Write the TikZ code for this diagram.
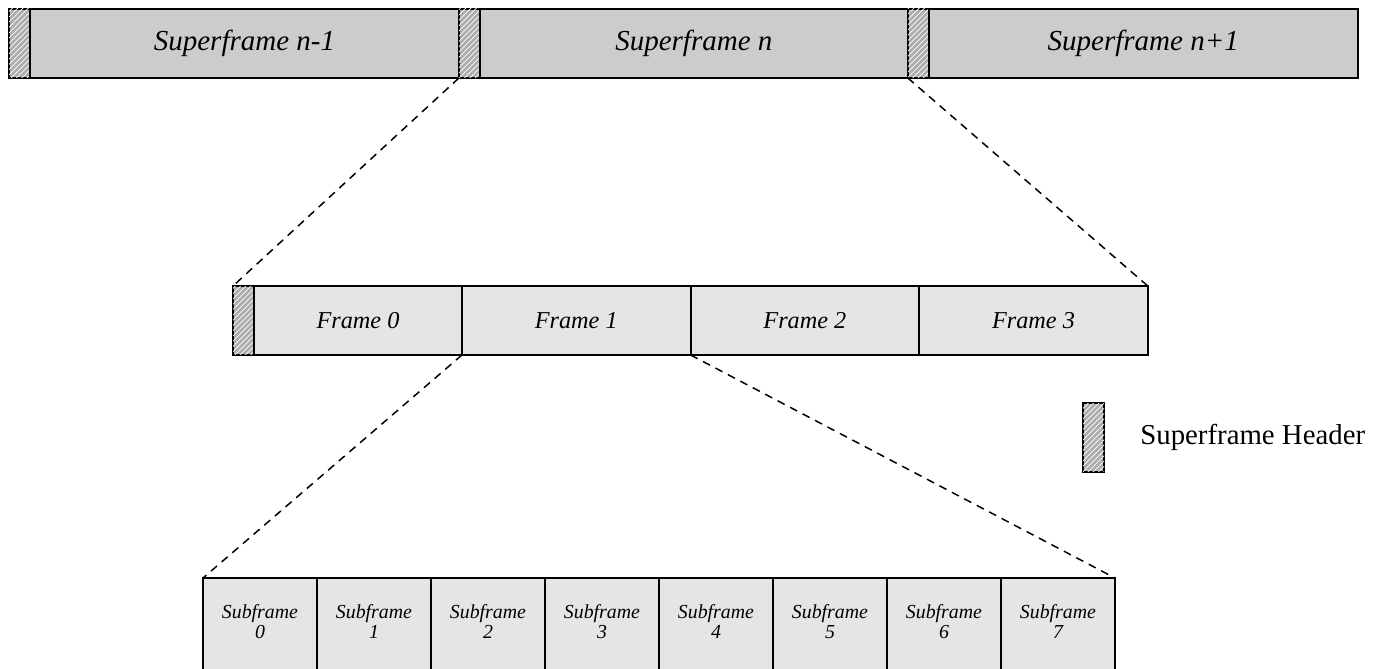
\documentclass[tikz,border=0pt]{standalone}
\usepackage{fontspec}
\setmainfont{Liberation Serif}
\usetikzlibrary{patterns,positioning}
\tikzset{
  hdr/.style={draw, line width=1.1pt, fill=gray!65,
    postaction={pattern=north east lines, pattern color=white},
    minimum width=0.42cm, minimum height=1.38cm, inner sep=0pt, outer sep=0pt},
  superbox/.style={draw, line width=1.1pt, fill=black!20, minimum height=1.38cm,
    inner sep=0pt, outer sep=0pt, font=\fontsize{16.5}{19}\selectfont\itshape},
  framebox/.style={draw, line width=1.1pt, fill=black!10, minimum height=1.38cm,
    inner sep=0pt, outer sep=0pt, font=\fontsize{13.8}{16}\selectfont\itshape},
  subbox/.style={draw, line width=1.1pt, fill=black!10, minimum width=2.28cm,
    minimum height=2.4cm, inner sep=0pt, outer sep=0pt, anchor=north west},
  subtext/.style={align=center, inner sep=0pt, font=\fontsize{11.3}{11.4}\selectfont\itshape},
  zoomline/.style={line width=0.85pt, dash pattern=on 4.5pt off 3.5pt}
}
\begin{document}
\begin{tikzpicture}[x=0.02cm, y=-0.02cm]
  \clip (0,0) rectangle (1384,669);
  % superframes
  \node[hdr, anchor=north west] (H1) at (9,9) {};
  \node[superbox, minimum width=8.58cm, right=0pt of H1] (S1) {Superframe n-1};
  \node[hdr, right=0pt of S1] (H2) {};
  \node[superbox, minimum width=8.56cm, right=0pt of H2] (S2) {Superframe n};
  \node[hdr, right=0pt of S2] (H3) {};
  \node[superbox, minimum width=8.58cm, right=0pt of H3] (S3) {Superframe n+1};
  % frames
  \node[hdr, anchor=north west] (H4) at (233,286) {};
  \node[framebox, minimum width=4.16cm, right=0pt of H4] (F0) {Frame 0};
  \node[framebox, minimum width=4.573cm, right=0pt of F0] (F1) {Frame 1};
  \node[framebox, minimum width=4.573cm, right=0pt of F1] (F2) {Frame 2};
  \node[framebox, minimum width=4.573cm, right=0pt of F2] (F3) {Frame 3};
  % subframes
  \foreach \i in {0,...,7}{
    \node[subbox] (SB\i) at (203+114*\i,578) {};
    \node[subtext] (ST\i) at ([yshift=-0.88cm]SB\i.north) {Subframe\\\i};
  }
  % legend
  \node[hdr, anchor=north west] (L) at (1083,403) {};
  \node[right=0.72cm of L, inner sep=0pt, font=\fontsize{16.4}{19}\selectfont] (LT) {Superframe Header};
  % zoom lines
  \draw[zoomline] (H2.south west) -- (H4.north west);
  \draw[zoomline] (H3.south west) -- (F3.north east);
  \draw[zoomline] (F1.south west) -- (SB0.north west);
  \draw[zoomline] (F2.south west) -- (SB7.north east);
\end{tikzpicture}
\end{document}
